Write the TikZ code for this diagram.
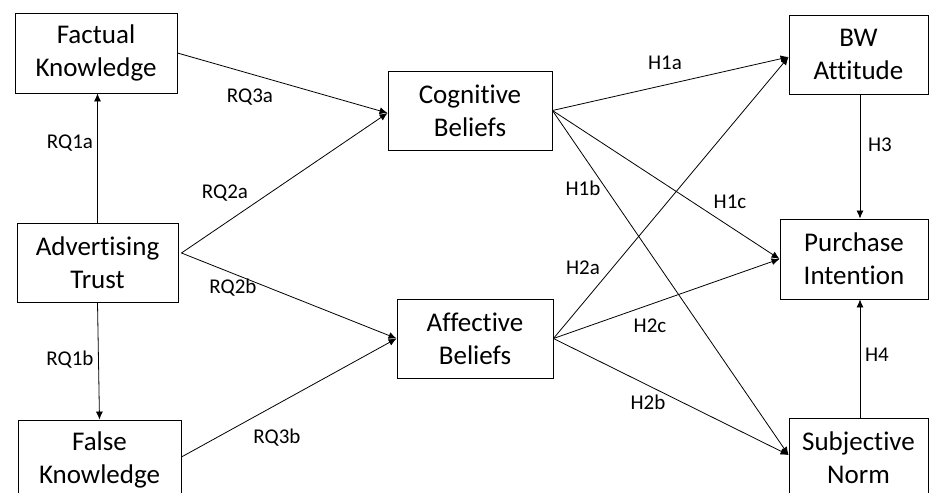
\documentclass[tikz,border=0pt]{standalone}
\usepackage{fontspec}
\setmainfont{Carlito}[RawFeature=-liga]
\usetikzlibrary{arrows.meta,calc}
\begin{document}
\begin{tikzpicture}[x=1pt,y=-1pt,
  box/.style={draw, line width=0.9pt, inner sep=0pt, align=center,
    font=\fontsize{27}{33}\selectfont},
  lbl/.style={font=\fontsize{21}{25}\selectfont, inner sep=0pt},
  conn/.style={line width=0.8pt, -{Latex[length=8pt,width=7pt]}}]
\useasboundingbox (0,0) rectangle (930,493);
\fill[white] (0,0) rectangle (930,493);
% boxes
\node[box, minimum width=162pt, minimum height=80pt] (fk) at (96,53) {Factual\\Knowledge};
\node[box, minimum width=161pt, minimum height=79pt] (at) at (97.5,262.5) {Advertising\\Trust};
\node[box, minimum width=163pt, minimum height=80pt] (fa) at (99.5,460) {False\\Knowledge};
\node[box, minimum width=164pt, minimum height=79pt] (cb) at (470,110.5) {Cognitive\\Beliefs};
\node[box, minimum width=156pt, minimum height=79pt] (ab) at (475,338.5) {Affective\\Beliefs};
\node[box, minimum width=139pt, minimum height=79pt] (bw) at (858.5,54.5) {BW\\Attitude};
\node[box, minimum width=148pt, minimum height=80pt] (pi) at (854,259) {Purchase\\Intention};
\node[box, minimum width=139pt, minimum height=80pt] (sn) at (858.5,458) {Subjective\\Norm};
% anchor points
\coordinate (atR) at ($(at.east)+(3,-9.5)$);
\coordinate (cbL) at ($(cb.west)+(0,2.5)$);
\coordinate (bwL) at ($(bw.west)+(0,2.5)$);
\coordinate (snL) at ($(sn.west)+(0,-3)$);
\coordinate (faR) at ($(fa.east)+(0,-3)$);
% connectors
\draw[conn] (at.north) -- (fk.south -| at.north);
\draw[conn] (at.south) -- (fa.north);
\draw[conn] (fk.east) -- (cbL);
\draw[conn] (atR) -- (cbL);
\draw[conn] (atR) -- (ab.west);
\draw[conn] (faR) -- (ab.west);
\draw[conn] (cb.east) -- (bwL);
\draw[conn] (cb.east) -- (pi.west);
\draw[conn] (cb.east) -- (snL);
\draw[conn] (ab.east) -- (bwL);
\draw[conn] (ab.east) -- (pi.west);
\draw[conn] (ab.east) -- (snL);
\draw[conn] (bw.south -| 860,0) -- (pi.north -| 860,0);
\draw[conn] (sn.north -| 860,0) -- (pi.south -| 860,0);
% labels
\node[lbl] (l1) at (250,97) {RQ3a};
\node[lbl] (l2) at (70,143) {RQ1a};
\node[lbl] (l3) at (225,193) {RQ2a};
\node[lbl] (l4) at (233,288) {RQ2b};
\node[lbl] (l5) at (70,360) {RQ1b};
\node[lbl] (l6) at (277,438) {RQ3b};
\node[lbl] (l7) at (665,63) {H1a};
\node[lbl] (l8) at (880,145) {H3};
\node[lbl] (l9) at (583,188) {H1b};
\node[lbl] (l10) at (730,202) {H1c};
\node[lbl] (l11) at (583,268) {H2a};
\node[lbl] (l12) at (650,326) {H2c};
\node[lbl] (l13) at (648,402) {H2b};
\node[lbl] (l14) at (877,355) {H4};
\end{tikzpicture}
\end{document}
